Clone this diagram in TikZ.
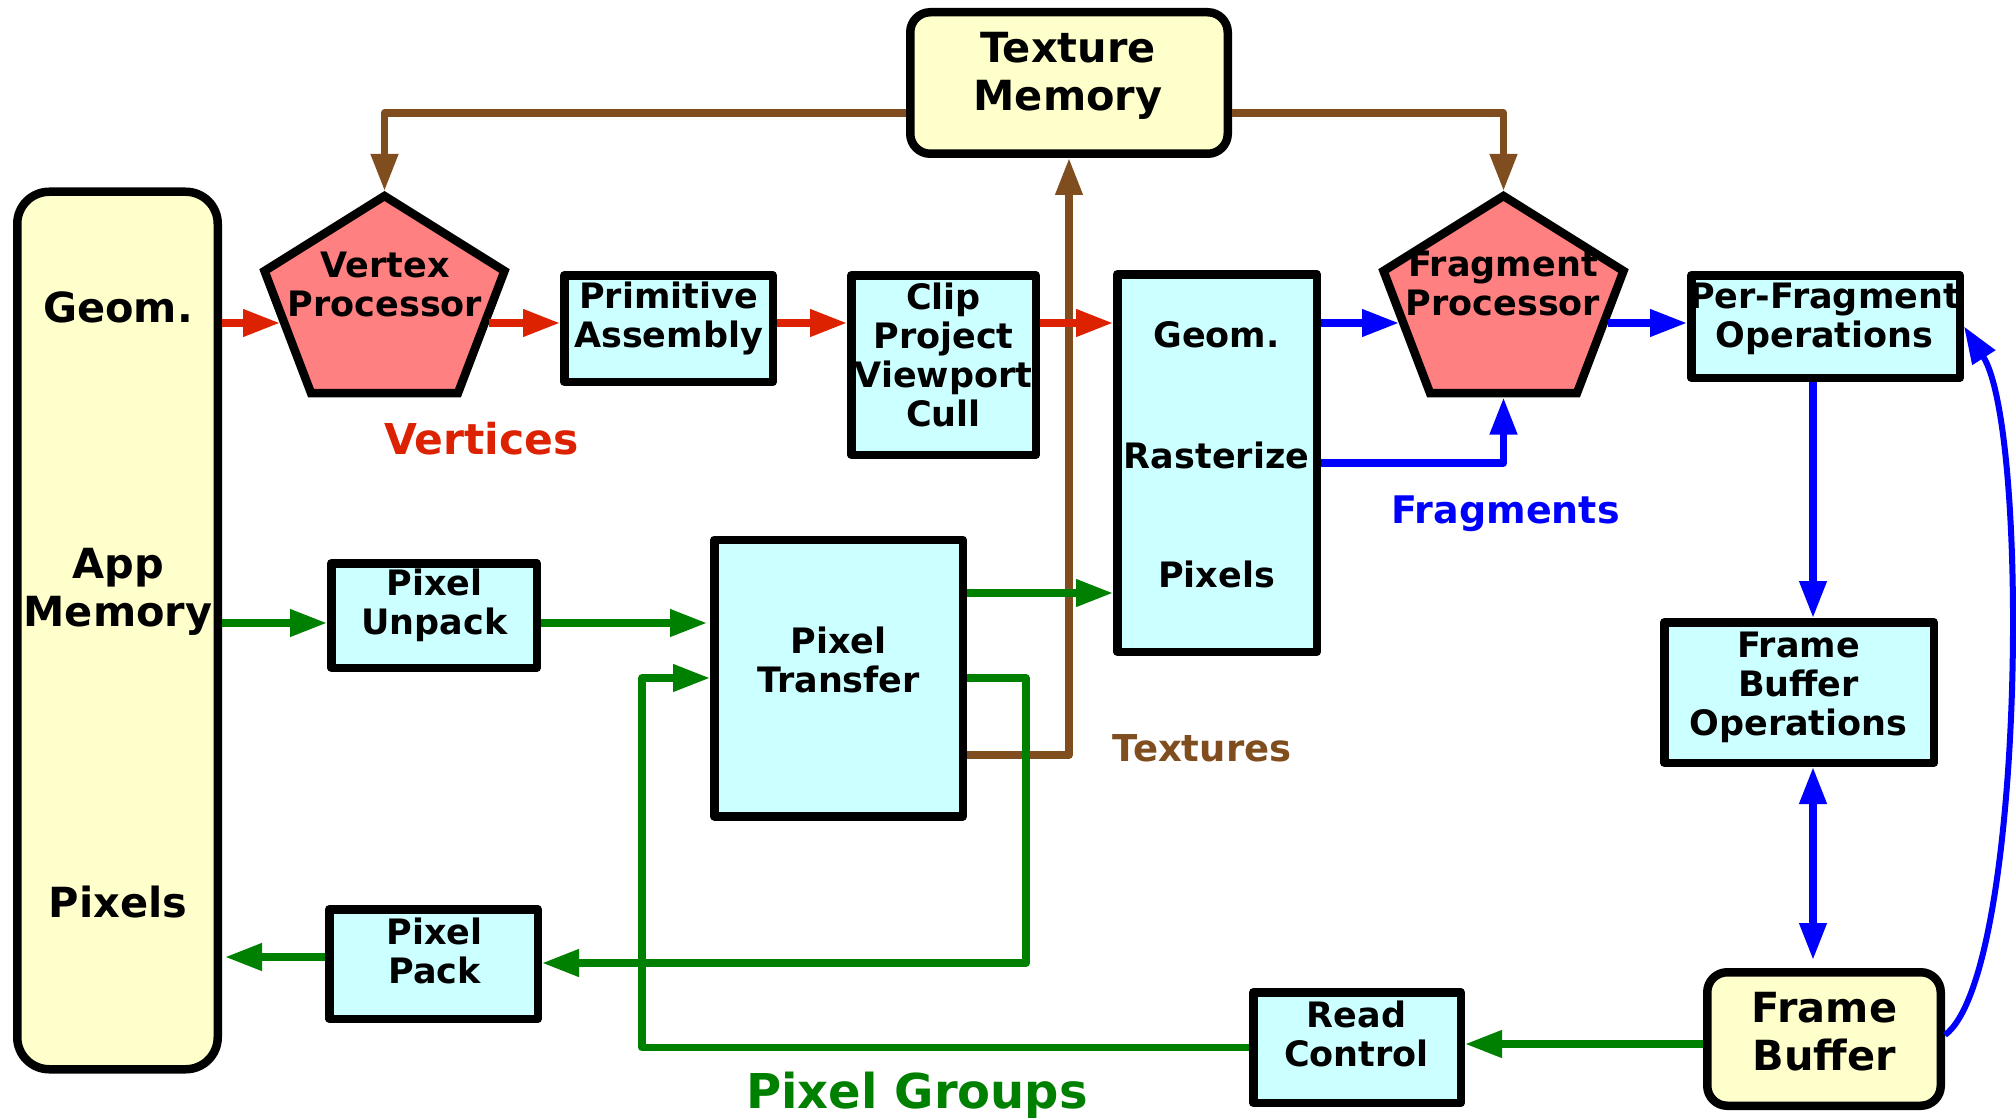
\documentclass[tikz,border=0pt]{standalone}
\usepackage{fontspec}
\setmainfont{DejaVu Sans}
\usetikzlibrary{arrows.meta,calc}
\definecolor{yell}{RGB}{255,255,204}
\definecolor{cyanf}{RGB}{204,255,255}
\definecolor{pinkf}{RGB}{255,128,128}
\definecolor{redc}{RGB}{220,34,0}
\definecolor{bluec}{RGB}{0,0,255}
\definecolor{greenc}{RGB}{0,128,0}
\definecolor{brownc}{RGB}{128,78,30}
\tikzset{
  box/.style={draw=black, line width=8.5pt, inner sep=0pt, line join=round},
  cbox/.style={box, fill=cyanf},
  ybox/.style={box, fill=yell, rounded corners=20pt},
  pent/.style={draw=black, fill=pinkf, line width=8.5pt, line join=miter},
  btxt/.style={font=\fontsize{35}{39}\selectfont\bfseries, align=center, text depth=0pt, inner sep=0pt},
  ytxt/.style={font=\fontsize{41.5}{48}\selectfont\bfseries, align=center, text depth=0pt, inner sep=0pt},
  lbl/.style={text depth=0pt, inner sep=0pt},
  conn/.style={line width=7.3pt, line join=round, -{Triangle[length=37pt,width=26pt]}},
  rarr/.style={conn, draw=redc},
  barr/.style={conn, draw=bluec},
  garr/.style={conn, draw=greenc},
  narr/.style={conn, draw=brownc},
  bdbl/.style={line width=7.3pt, draw=bluec, {Triangle[length=37pt,width=26pt]}-{Triangle[length=37pt,width=26pt]}},
}
\begin{document}
\begin{tikzpicture}[x=1pt,y=-1pt]
\useasboundingbox (0,0) rectangle (2016,1118);
\fill[white] (0,0) rectangle (2016,1118);

% boxes
\node[ybox, rounded corners=32pt, minimum width=200.5pt, minimum height=877.5pt] (app) at (117.5,630.5) {};
\node[ybox, minimum width=317.5pt, minimum height=141.5pt] (tex) at (1069,83) {};
\node[cbox, minimum width=208.5pt, minimum height=106.5pt] (pa) at (668.5,328.5) {};
\node[cbox, minimum width=184.5pt, minimum height=179.5pt] (clip) at (943.5,365) {};
\node[cbox, minimum width=199.5pt, minimum height=377.5pt] (geo) at (1217,463) {};
\node[cbox, minimum width=268.5pt, minimum height=102.5pt] (pfo) at (1825.5,326.5) {};
\node[cbox, minimum width=269.5pt, minimum height=140.5pt] (fbo) at (1799,692.5) {};
\node[ybox, minimum width=233.5pt, minimum height=133.5pt] (fb) at (1824,1039) {};
\node[cbox, minimum width=207.5pt, minimum height=110.5pt] (rc) at (1357,1047.5) {};
\node[cbox, minimum width=205.5pt, minimum height=104.5pt] (pu) at (434,615.5) {};
\node[cbox, minimum width=248.5pt, minimum height=276.5pt] (pt) at (838.5,678) {};
\node[cbox, minimum width=208.5pt, minimum height=109.5pt] (pp) at (433.5,964) {};

% pentagons
\draw[pent] (384.5,196) -- (504.5,271) -- (458,393) -- (311,393) -- (264.5,271) -- cycle;
\draw[pent] (1503.5,196) -- (1623.5,271) -- (1577,393) -- (1430,393) -- (1383.5,271) -- cycle;
\coordinate (vpW) at (280,323);
\coordinate (vpE) at (489,323);
\coordinate (vpN) at (384.5,191);
\coordinate (fpW) at (1399,323);
\coordinate (fpE) at (1608,323);
\coordinate (fpN) at (1503.5,191);
\coordinate (fpS) at (1503.5,397.5);

% level coordinates
\coordinate (yR) at (0,323);
\coordinate (xB) at (1813,0);
\coordinate (yG1) at (0,623);
\coordinate (yG2) at (0,593);
\coordinate (gA) at (1026,963);
\coordinate (yPP) at (0,957);
\coordinate (yFB) at (0,1044);
\coordinate (gB) at (642,678);

% brown
\draw[narr] ($(tex.west)+(0,30)$) -| (vpN);
\draw[narr] ($(tex.east)+(0,30)$) -| (fpN);
\draw[narr] ($(pt.east)+(0,77)$) -| (tex.south);

% red
\draw[rarr] (app.east |- yR) -- (vpW);
\draw[rarr] (vpE) -- (pa.west |- yR);
\draw[rarr] (pa.east |- yR) -- (clip.west |- yR);
\draw[rarr] (clip.east |- yR) -- (geo.west |- yR);

% blue
\draw[barr] (geo.east |- yR) -- (fpW);
\draw[barr] (geo.east) -| (fpS);
\draw[barr] (fpE) -- (pfo.west |- yR);
\draw[barr] (pfo.south -| xB) -- (fbo.north -| xB);
\draw[bdbl] (fbo.south -| xB) -- ($(fb.north -| xB)+(0,-8)$);
\draw[barr, line width=6pt] ($(fb.east)+(0,-4)$) .. controls (2025,975) and (2030,430) .. (pfo.east);

% green
\draw[garr] (app.east |- yG1) -- (pu.west |- yG1);
\draw[garr] (pu.east |- yG1) -- ($(pt.west |- yG1)+(-3,0)$);
\draw[garr] (pt.east |- yG2) -- (geo.west |- yG2);
\draw[garr] (pt.east) -| (gA) -- (pp.east |- gA);
\draw[garr] (pp.west |- yPP) -- ($(app.east |- yPP)+(3,0)$);
\draw[garr] (fb.west |- yFB) -- (rc.east |- yFB);
\draw[garr] (rc.west) -| (gB) -- (pt.west);

% texts
\node[ytxt] (appG) at (118,307) {Geom.};
\node[ytxt] (appM) at (118,587.5) {App\\Memory};
\node[ytxt] (appP) at (118,902) {Pixels};
\node[ytxt] (texT) at (1068,71) {Texture\\Memory};
\node[btxt] (vp) at (385,284) {Vertex\\Processor};
\node[btxt] (fp) at (1503,283.5) {Fragment\\Processor};
\node[btxt] (paT) at (668.5,315) {Primitive\\Assembly};
\node[btxt] (clipT) at (943.5,355) {Clip\\Project\\Viewport\\Cull};
\node[btxt] (geoG) at (1216.5,335) {Geom.};
\node[btxt] (geoR) at (1216.5,455) {Rasterize};
\node[btxt] (geoP) at (1216.5,574.5) {Pixels};
\node[btxt] (pfoT) at (1824.5,315) {Per-Fragment\\Operations};
\node[btxt] (fboT) at (1798.5,684) {Frame\\Buffer\\Operations};
\node[ytxt] (fbT) at (1824.5,1031.5) {Frame\\Buffer};
\node[btxt] (rcT) at (1356.5,1034) {Read\\Control};
\node[btxt] (puT) at (434.5,602) {Pixel\\Unpack};
\node[btxt] (ptT) at (838.5,660) {Pixel\\Transfer};
\node[btxt] (ppT) at (434.5,951) {Pixel\\Pack};

% labels
\node[lbl, text=redc, font=\fontsize{42.5}{48}\selectfont\bfseries] (lV) at (481.5,438) {Vertices};
\node[lbl, text=bluec, font=\fontsize{38}{44}\selectfont\bfseries] (lF) at (1505.5,510) {Fragments};
\node[lbl, text=brownc, font=\fontsize{37}{43}\selectfont\bfseries] (lT) at (1202,748) {Textures};
\node[lbl, text=greenc, font=\fontsize{48}{56}\selectfont\bfseries] (lP) at (917,1090.5) {Pixel Groups};
\end{tikzpicture}
\end{document}
